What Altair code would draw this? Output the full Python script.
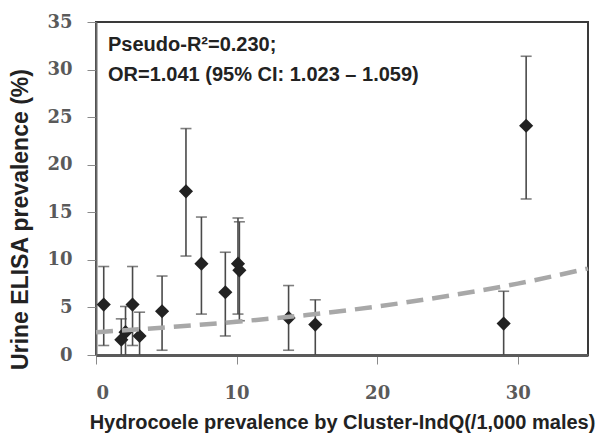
import altair as alt
import pandas as pd

# Cluster hydrocoele prevalence (/1,000 males) and urine ELISA prevalence (%)
hydro = [0.55, 1.8, 2.1, 2.6, 3.1, 4.7, 6.4, 7.5, 9.2, 10.1, 10.2, 13.7, 15.6, 29.0, 30.6]
elisa = [5.3, 1.6, 2.4, 5.3, 2.0, 4.6, 17.2, 9.6, 6.6, 9.6, 8.9, 3.9, 3.2, 3.3, 24.1]
ci_low = [1.0, 0.0, 0.0, 1.0, 0.0, 0.5, 10.4, 4.3, 2.0, 4.3, 3.6, 0.5, 0.0, 0.0, 16.4]
ci_high = [9.3, 3.8, 5.1, 9.3, 4.5, 8.3, 23.8, 14.5, 10.8, 14.4, 14.0, 7.3, 5.8, 6.7, 31.4]

# Fitted logistic curve
fit_x = [0, 5, 10, 15, 20, 25, 30, 35]
fit_y = [2.4, 2.9, 3.5, 4.2, 5.1, 6.2, 7.5, 9.1]

annot_lines = ["Pseudo-R\u00b2=0.230;", "OR=1.041 (95% CI: 1.023 \u2013 1.059)"]

pts = pd.DataFrame({"x": hydro, "y": elisa, "lo": ci_low, "hi": ci_high})
fit = pd.DataFrame({"x": fit_x, "y": fit_y})

xscale = alt.Scale(domain=[0, 35], nice=False, zero=False)
yscale = alt.Scale(domain=[0, 35], nice=False)

x_axis = alt.Axis(
    title="Hydrocoele prevalence by Cluster-IndQ(/1,000 males)",
    values=[0, 10, 20, 30], grid=False,
    domainColor="#5a5a5a", domainWidth=3,
    tickColor="#8a8a8a", tickSize=9, tickWidth=1,
    labelFont="DejaVu Serif", labelFontSize=18, labelFontWeight="bold",
    labelColor="#5a5a5a", labelPadding=20,
    titleFont="Liberation Sans", titleFontSize=20, titleFontWeight="bold",
    titleColor="#222222", titlePadding=10,
)
y_axis = alt.Axis(
    title="Urine ELISA prevalence (%)",
    values=[0, 5, 10, 15, 20, 25, 30, 35], grid=False,
    domainColor="#6a6a6a", domainWidth=2,
    tickColor="#8a8a8a", tickSize=9, tickWidth=1,
    labelFont="DejaVu Serif", labelFontSize=18, labelFontWeight="bold",
    labelColor="#5a5a5a", labelPadding=15,
    titleFont="Liberation Sans", titleFontSize=23, titleFontWeight="bold",
    titleColor="#222222", titleX=-76, titleY=197, titleBaseline="middle",
    titleAngle=270, titleAlign="center",
)

base = alt.Chart(pts)

bars = base.mark_rule(color="#4a4a4a", strokeWidth=1.6).encode(
    x=alt.X("x:Q", scale=xscale, axis=x_axis),
    y=alt.Y("lo:Q", scale=yscale, axis=y_axis),
    y2="hi:Q",
)
cap_hi = base.mark_tick(color="#4a4a4a", thickness=1.6, size=11, orient="horizontal").encode(
    x=alt.X("x:Q", scale=xscale), y=alt.Y("hi:Q", scale=yscale)
)
cap_lo = base.transform_filter("datum.lo > 0").mark_tick(
    color="#4a4a4a", thickness=1.6, size=11, orient="horizontal"
).encode(x=alt.X("x:Q", scale=xscale), y=alt.Y("lo:Q", scale=yscale))

diamonds = base.mark_point(shape="diamond", filled=True, color="#222222", size=200, opacity=1).encode(
    x=alt.X("x:Q", scale=xscale), y=alt.Y("y:Q", scale=yscale)
)

trend = alt.Chart(fit).mark_line(
    color="#a8a8a8", strokeWidth=4.5, strokeDash=[17, 9], interpolate="monotone"
).encode(x=alt.X("x:Q", scale=xscale), y=alt.Y("y:Q", scale=yscale))

txt1 = alt.Chart(pd.DataFrame({"t": [annot_lines[0]]})).mark_text(
    align="left", baseline="middle", font="Liberation Sans", fontWeight="bold",
    fontSize=20, color="#222222"
).encode(x=alt.value(12), y=alt.value(23), text="t:N")
txt2 = alt.Chart(pd.DataFrame({"t": [annot_lines[1]]})).mark_text(
    align="left", baseline="middle", font="Liberation Sans", fontWeight="bold",
    fontSize=20, color="#222222"
).encode(x=alt.value(12), y=alt.value(53), text="t:N")

chart = alt.layer(bars, cap_hi, cap_lo, diamonds, trend, txt1, txt2).properties(
    width=492, height=333,
    autosize=alt.AutoSizeParams(type="none"),
    padding={"left": 96, "top": 22, "right": 12, "bottom": 85},
    background="white",
).configure_view(stroke="#3a3a3a", strokeWidth=2)

chart.save("out.html", embed_options={"renderer": "svg", "actions": False})
